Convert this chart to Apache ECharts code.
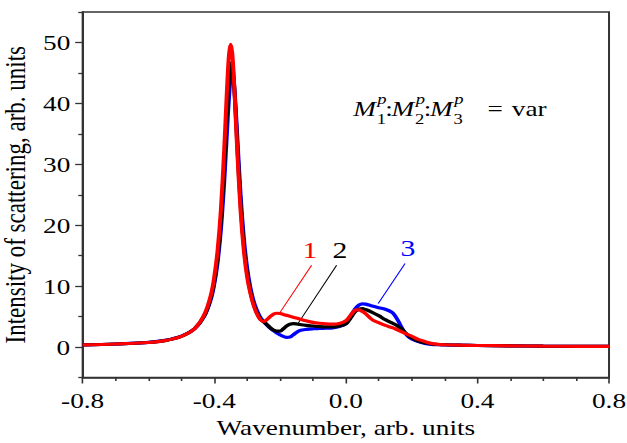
<!DOCTYPE html>
<html><head><meta charset="utf-8">
<script src="https://cdn.jsdelivr.net/npm/echarts@6/dist/echarts.min.js"></script>
<style>
html,body{margin:0;padding:0;background:#fff;overflow:hidden;}
#wrap{width:627px;height:443px;overflow:hidden;position:relative;}
#chart{width:506px;height:443px;transform:scaleX(1.2391);transform-origin:0 0;}
</style></head><body>
<div id="wrap"><div id="chart"></div></div>
<script>
// ---- data ----
const xs = [-0.80,-0.70,-0.60,-0.55,-0.50,-0.46,-0.43,-0.41,-0.40,-0.39,-0.38,-0.37,-0.365,-0.36,-0.355,-0.35,-0.345,-0.34,-0.335,-0.33,-0.32,-0.31,-0.30,-0.29,-0.28,-0.27,-0.26,-0.25,-0.24,-0.23,-0.22,-0.21,-0.20,-0.19,-0.18,-0.17,-0.16,-0.15,-0.14,-0.12,-0.10,-0.08,-0.06,-0.04,-0.02,0.00,0.01,0.02,0.03,0.04,0.05,0.06,0.08,0.10,0.12,0.14,0.15,0.16,0.17,0.18,0.19,0.20,0.22,0.24,0.26,0.28,0.30,0.35,0.40,0.50,0.60,0.70,0.80];
const curve1 = [0.35,0.5,0.75,1.05,1.75,3.0,5.35,8.6,11.5,15.8,22.4,32.2,38.0,43.7,48.1,49.7,48.1,43.7,38.0,32.2,22.4,15.8,11.5,8.8,6.8,5.4,4.5,4.2,4.5,5.0,5.4,5.55,5.5,5.35,5.2,5.05,4.9,4.75,4.6,4.3,4.05,3.9,3.8,3.75,3.85,4.3,4.9,5.6,6.1,6.1,5.85,5.5,4.5,4.0,3.55,3.2,3.0,2.75,2.5,2.25,2.0,1.8,1.25,0.9,0.6,0.45,0.38,0.3,0.25,0.2,0.15,0.12,0.1];
const curve2 = [0.35,0.5,0.75,1.05,1.75,3.0,5.15,8.2,10.8,14.6,20.5,29.1,34.3,39.6,44.1,46.6,46.3,43.3,38.5,33.2,23.5,16.7,12.1,9.1,7.0,5.6,4.6,4.15,3.7,3.2,2.8,2.6,2.6,3.0,3.45,3.75,3.85,3.8,3.7,3.55,3.45,3.35,3.3,3.3,3.45,3.8,4.4,5.2,5.9,6.2,6.3,6.15,5.7,5.15,4.5,3.95,3.7,3.35,2.95,2.4,1.9,1.5,1.0,0.7,0.5,0.42,0.38,0.3,0.25,0.2,0.15,0.12,0.1];
const curve3 = [0.35,0.5,0.78,1.1,1.8,3.0,5.1,7.9,10.3,13.8,19.1,26.8,31.6,36.6,41.1,44.2,45.0,43.2,39.4,34.6,25.1,17.9,13.0,9.75,7.5,6.0,4.9,4.2,3.6,3.1,2.7,2.3,2.0,1.75,1.6,1.65,2.0,2.4,2.7,2.9,3.0,3.05,3.1,3.15,3.35,3.85,4.6,5.6,6.4,6.9,7.1,7.05,6.75,6.45,6.2,5.7,5.1,4.2,3.2,2.3,1.7,1.35,0.9,0.6,0.45,0.4,0.36,0.3,0.25,0.2,0.15,0.12,0.1];
const xTickValues = [-0.8,-0.4,0.0,0.4,0.8];
const yLabelValues = [0,10,20,30,40,50];
const yMinorValues = [-5,5,15,25,35,45,55];
const curveNames = ['1','2','3'];
const curveColors = ['#ff0000','#000000','#0000ff'];
const labelPos = [[-0.109,15.9],[-0.018,15.9],[0.189,16.2]];
const leaderStart = [[-0.104,13.44],[-0.028,13.44],[0.180,13.72]];
const leaderEnd = [[-0.200,5.69],[-0.145,3.89],[0.0985,7.16]];
const xTitle = 'Wavenumber, arb. units';
const yTitle = 'Intensity of scattering, arb. units';

const F = "'Liberation Serif','Times New Roman',serif";
const curves = [curve1, curve2, curve3];
const chart = echarts.init(document.getElementById('chart'), null, {renderer:'svg'});

function mkSeries(i){
  return {
    type:'line', name:curveNames[i], showSymbol:false, smooth:0.35, z: 10 + (i===0?3:(i===1?2:1)),
    data: xs.map((x,k)=>[x, curves[i][k]]),
    lineStyle:{color:curveColors[i], width:3.2},
    itemStyle:{color:curveColors[i]},
    markLine:{silent:true, symbol:['none','none'], animation:false,
      label:{show:false}, lineStyle:{color:curveColors[i], width:0.9, type:'solid'},
      data:[[{coord:leaderStart[i]},{coord:leaderEnd[i]}]]},
    markPoint:{silent:true, symbol:'circle', symbolSize:0, animation:false,
      itemStyle:{color:'transparent'},
      label:{show:true, position:'inside', formatter:curveNames[i], color:curveColors[i], fontSize:24, fontFamily:F},
      data:[{coord:labelPos[i]}]}
  };
}

function annot(){
  const out = [];
  const groups = [285, 316, 347];
  groups.forEach((gx, i) => {
    out.push({type:'text', x:gx, y:108.5, style:{text:'M', fontSize:22, fontStyle:'italic', fontFamily:F, fill:'#000', verticalAlign:'middle'}});
    out.push({type:'text', x:gx+19.5, y:99.5, style:{text:'p', fontSize:15, fontStyle:'italic', fontFamily:F, fill:'#000', verticalAlign:'middle'}});
    out.push({type:'text', x:gx+19, y:119.5, style:{text:String(i+1), fontSize:15, fontFamily:F, fill:'#000', verticalAlign:'middle'}});
    if (i < 2) out.push({type:'text', x:gx+26, y:108.5, style:{text:':', fontSize:22, fontFamily:F, fill:'#000', verticalAlign:'middle'}});
  });
  out.push({type:'text', x:393.5, y:108.5, style:{text:'=', fontSize:22, fontFamily:F, fill:'#000', verticalAlign:'middle'}});
  out.push({type:'text', x:413, y:108.5, style:{text:'var', fontSize:22, fontFamily:F, fill:'#000', verticalAlign:'middle'}});
  return out;
}

const axisLine = {show:true, onZero:false, lineStyle:{color:'#333', width:1.6}};
const option = {
  animation:false,
  backgroundColor:'#fff',
  grid:{left:66.7, right:14.5, top:12, bottom:65.5, show:true, borderColor:'#333', borderWidth:1.6, containLabel:false, outerBoundsMode:'none'},
  xAxis:{type:'value', min:-0.8, max:0.8, interval:0.4,
    axisLine:axisLine, splitLine:{show:false},
    axisTick:{show:true, inside:false, length:6, lineStyle:{color:'#333', width:1.3}},
    minorTick:{show:true, splitNumber:4, length:3.5, lineStyle:{color:'#333', width:1.3}},
    axisLabel:{color:'#000', fontSize:22, fontFamily:F, margin:12,
      formatter:v=>(Math.abs(v)<1e-9?'0.0':v.toFixed(1))},
    name:xTitle, nameLocation:'middle', nameGap:37,
    nameTextStyle:{color:'#000', fontSize:22, fontFamily:F}},
  yAxis:[{type:'value', min:-5, max:55, interval:5,
    axisLine:axisLine, splitLine:{show:false},
    axisTick:{show:true, inside:false, length:6, customValues:yLabelValues, lineStyle:{color:'#333', width:1.3}},
    axisLabel:{color:'#000', fontSize:22, fontFamily:F, margin:10, customValues:yLabelValues},
    name:yTitle, nameLocation:'middle', nameGap:38, nameRotate:90,
    nameTextStyle:{color:'#000', fontSize:23, fontFamily:F}},
   {type:'value', min:-5, max:55, interval:5, position:'left', offset:0,
    axisLine:{show:false, onZero:false}, splitLine:{show:false},
    axisTick:{show:true, inside:false, length:3.5, customValues:yMinorValues, lineStyle:{color:'#333', width:1.3}},
    axisLabel:{show:false}}],
  series:[mkSeries(2), mkSeries(1), mkSeries(0)],
  graphic:[{type:'group', x:0, y:0, silent:true, children:annot()}]
};
chart.setOption(option);
</script>
</body></html>
